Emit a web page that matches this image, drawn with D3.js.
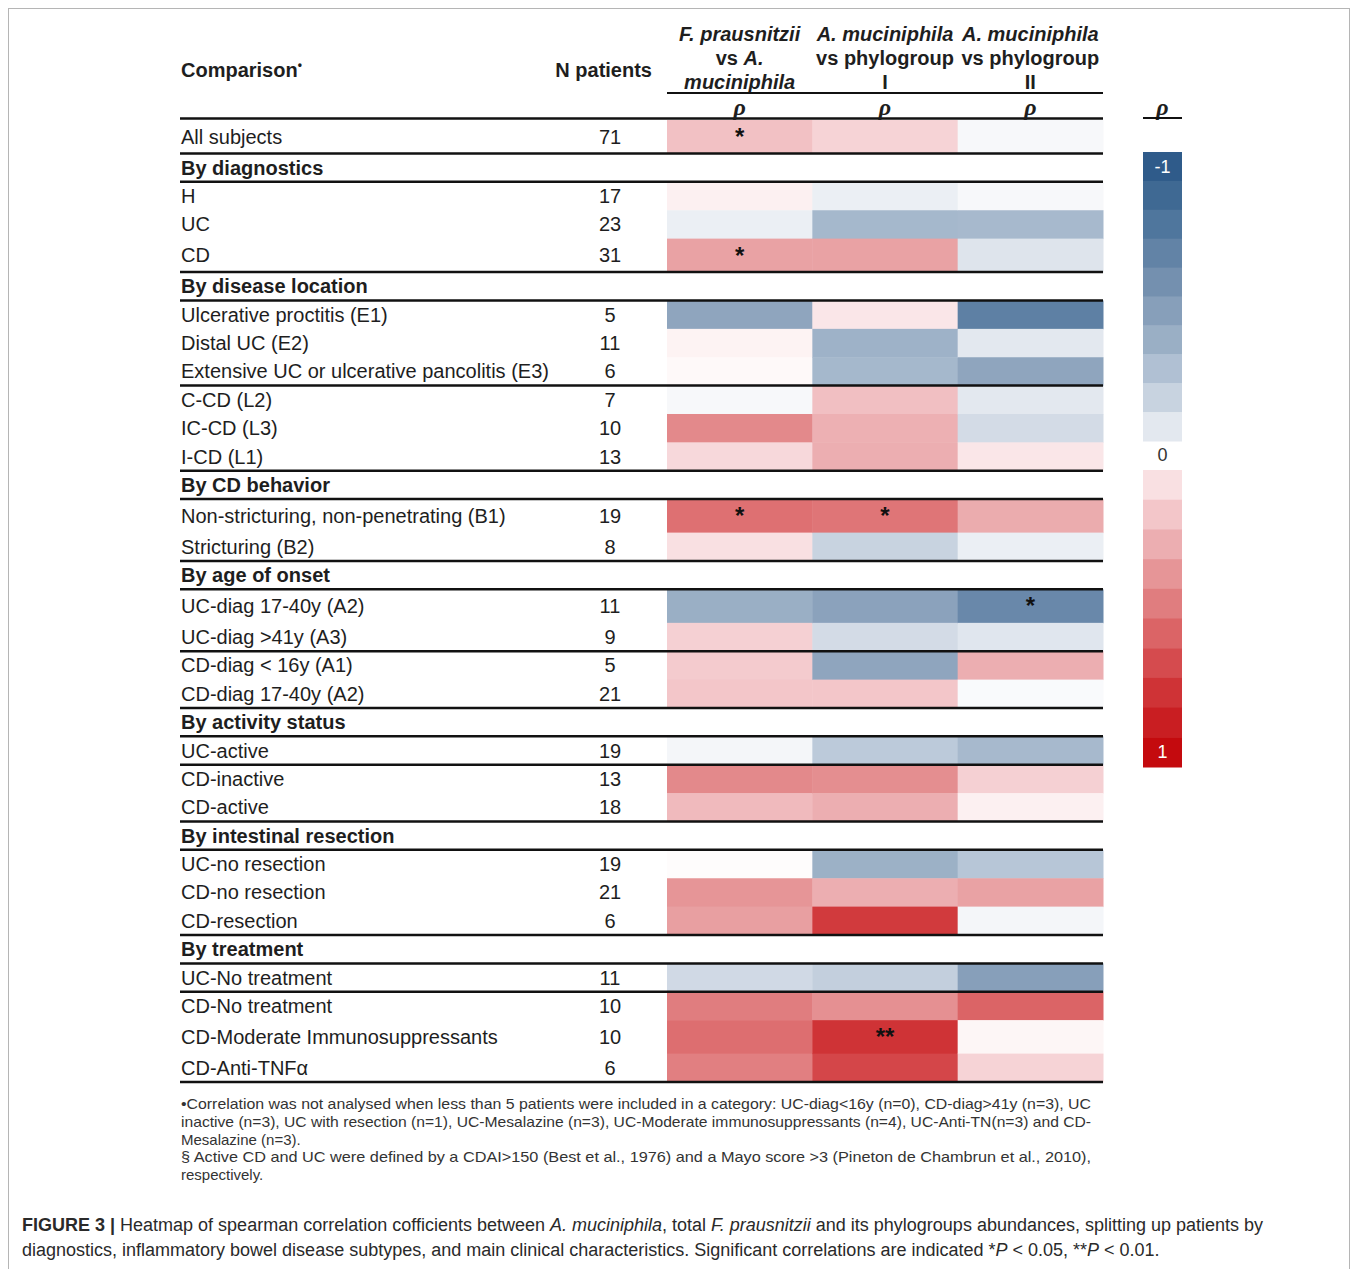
<!DOCTYPE html>
<html>
<head>
<meta charset="utf-8">
<script src="https://cdn.jsdelivr.net/npm/d3@7"></script>
<style>
    body { margin: 0; background: #fff; }
    svg text { font-family: 'Liberation Sans', Arial, sans-serif; fill: #1e1e1e; }
</style>
</head>
<body>
<svg id="chart" width="1358" height="1269"></svg>
<script>
// rows of the table, group headers have no N
const rowLabels = [
    'All subjects', 'By diagnostics', 'H', 'UC', 'CD',
    'By disease location', 'Ulcerative proctitis (E1)', 'Distal UC (E2)', 'Extensive UC or ulcerative pancolitis (E3)',
    'C-CD (L2)', 'IC-CD (L3)', 'I-CD (L1)',
    'By CD behavior', 'Non-stricturing, non-penetrating (B1)', 'Stricturing (B2)',
    'By age of onset', 'UC-diag 17-40y (A2)', 'UC-diag >41y (A3)', 'CD-diag < 16y (A1)', 'CD-diag 17-40y (A2)',
    'By activity status', 'UC-active', 'CD-inactive', 'CD-active',
    'By intestinal resection', 'UC-no resection', 'CD-no resection', 'CD-resection',
    'By treatment', 'UC-No treatment', 'CD-No treatment', 'CD-Moderate Immunosuppressants', 'CD-Anti-TNFα'
];
const nPatients = [71, null, 17, 23, 31, null, 5, 11, 6, 7, 10, 13, null, 19, 8, null, 11, 9, 5, 21,
    null, 19, 13, 18, null, 19, 21, 6, null, 11, 10, 10, 6];

const columns = ['fpAm', 'amI', 'amII'];
const rhoFpAm = [0.22, null, 0.05, -0.07, 0.35, null, -0.46, 0.04, 0.02, -0.03, 0.45, 0.13, null, 0.55, 0.1,
    null, -0.4, 0.16, 0.18, 0.2, null, -0.04, 0.45, 0.25, null, 0.01, 0.4, 0.36, null, -0.17, 0.5, 0.56, 0.49];
const rhoAmI = [0.15, null, -0.07, -0.35, 0.35, null, 0.08, -0.38, -0.35, 0.23, 0.29, 0.3, null, 0.53, -0.2,
    null, -0.48, -0.16, -0.46, 0.2, null, -0.25, 0.43, 0.3, null, -0.39, 0.3, 0.77, null, -0.22, 0.42, 0.8, 0.72];
const rhoAmII = [-0.03, null, -0.03, -0.34, -0.12, null, -0.72, -0.1, -0.46, -0.1, -0.16, 0.08, null, 0.31, -0.07,
    null, -0.66, -0.11, 0.3, -0.02, null, -0.34, 0.16, 0.05, null, -0.27, 0.35, -0.04, null, -0.5, 0.6, 0.03, 0.15];

// significance marks: [row, column, mark]
const signif = [[0, 'fpAm', '*'], [4, 'fpAm', '*'], [13, 'fpAm', '*'], [13, 'amI', '*'], [16, 'amII', '*'], [31, 'amI', '**']];

// rules drawn under these rows
const ruleAfter = [0, 1, 4, 5, 8, 11, 12, 14, 15, 17, 19, 20, 21, 23, 24, 27, 28, 29, 32];

// legend ladder
const legendSteps = [-1, -0.9, -0.8, -0.7, -0.6, -0.5, -0.4, -0.3, -0.2, -0.1, 0.1, 0.2, 0.3, 0.4, 0.5, 0.6, 0.7, 0.8, 0.9, 1];
const legendColors = ['#2f5b8a', '#3f6993', '#4f769d', '#6283a6', '#7490af', '#879fba', '#9aafc5', '#b0c0d3', '#c8d3e0', '#e3e8ef',
    '#f9e0e2', '#f3c6c9', '#ecaeb1', '#e69597', '#e07d7f', '#db6466', '#d54b4e', '#cf3336', '#c91e22', '#c40a0e'];

const svg = d3.select('#chart');

// figure frame
svg.append('rect')
    .attr('x', 8.5).attr('y', 8.5)
    .attr('width', 1341).attr('height', 1275)
    .attr('fill', 'none')
    .attr('stroke', '#b5b5b5');

const color = d3.scaleLinear()
    .domain([...legendSteps.slice(0, 10), 0, ...legendSteps.slice(10)])
    .range([...legendColors.slice(0, 10), '#ffffff', ...legendColors.slice(10)])
    .clamp(true);

const x = d3.scaleBand().domain(columns).range([667, 1103]);

// rows carrying a star are drawn a bit taller, like in the source table
const starRows = new Set(signif.map(d => d[0]));
const rowUnits = rowLabels.map((d, i) => starRows.has(i) ? 1.18 : 1);
const rowCum = Array.from(d3.cumsum([0, ...rowUnits]));
const yu = d3.scaleLinear().domain([0, rowCum[rowCum.length - 1]]).range([120, 1082]);
const rowTop = i => yu(rowCum[i]);
const rowH = i => yu(rowCum[i + 1]) - yu(rowCum[i]);
const rowMid = i => rowTop(i) + rowH(i) / 2;

const values = { fpAm: rhoFpAm, amI: rhoAmI, amII: rhoAmII };
const cells = columns.flatMap(c => values[c].map((v, i) => ({ col: c, row: i, v })))
    .filter(d => d.v !== null);

const table = svg.append('g').attr('class', 'table');

table.selectAll('.cell')
    .data(cells)
    .join('rect')
        .attr('class', 'cell')
        .attr('x', d => x(d.col))
        .attr('y', d => rowTop(d.row))
        .attr('width', x.bandwidth() + 0.5)
        .attr('height', d => rowH(d.row) + 0.5)
        .attr('fill', d => color(d.v));

table.selectAll('.sig')
    .data(signif)
    .join('text')
        .attr('class', 'sig')
        .attr('x', d => x(d[1]) + x.bandwidth() / 2)
        .attr('y', d => rowTop(d[0]) + 25)
        .attr('text-anchor', 'middle')
        .style('font-size', '24px')
        .style('font-weight', 'bold')
        .style('fill', '#111')
        .text(d => d[2]);

// row labels
const labelX = 181, nX = 610;
table.selectAll('.row-label')
    .data(rowLabels)
    .join('text')
        .attr('class', 'row-label')
        .attr('x', labelX)
        .attr('y', (d, i) => rowMid(i))
        .attr('dy', '0.35em')
        .style('font-size', '20px')
        .style('font-weight', (d, i) => nPatients[i] === null ? 'bold' : 'normal')
        .text(d => d);

table.selectAll('.n-label')
    .data(nPatients.map((n, i) => ({ n, i })).filter(d => d.n !== null))
    .join('text')
        .attr('class', 'n-label')
        .attr('x', nX)
        .attr('y', d => rowMid(d.i))
        .attr('dy', '0.35em')
        .attr('text-anchor', 'middle')
        .style('font-size', '20px')
        .text(d => d.n);

// horizontal rules
table.selectAll('.rule')
    .data([-1, ...ruleAfter])
    .join('line')
        .attr('class', 'rule')
        .attr('x1', 180).attr('x2', 1103)
        .attr('y1', d => d < 0 ? rowTop(0) - 1.5 : rowTop(d + 1))
        .attr('y2', d => d < 0 ? rowTop(0) - 1.5 : rowTop(d + 1))
        .attr('stroke', '#111')
        .attr('stroke-width', 2.5);

// header
const head = svg.append('g').attr('class', 'header')
    .style('font-size', '20px').style('font-weight', 'bold');

head.append('text').attr('x', labelX).attr('y', 77).text('Comparison')
    .append('tspan').attr('dy', -8).style('font-size', '12px').text('•');
head.append('text').attr('x', 652).attr('y', 77).attr('text-anchor', 'end').text('N patients');

const colHeads = {
    fpAm: [[['F. prausnitzii', true]], [['vs ', false], ['A.', true]], [['muciniphila', true]]],
    amI: [[['A. muciniphila', true]], [['vs phylogroup', false]], [['I', false]]],
    amII: [[['A. muciniphila', true]], [['vs phylogroup', false]], [['II', false]]]
};
columns.forEach(c => {
    colHeads[c].forEach((parts, li) => {
        const t = head.append('text')
            .attr('x', x(c) + x.bandwidth() / 2)
            .attr('y', 41 + li * 24)
            .attr('text-anchor', 'middle');
        parts.forEach(p => t.append('tspan').style('font-style', p[1] ? 'italic' : 'normal').text(p[0]));
    });
    head.append('text')
        .attr('x', x(c) + x.bandwidth() / 2)
        .attr('y', 115)
        .attr('text-anchor', 'middle')
        .style('font-family', "'Liberation Serif', 'Times New Roman', serif")
        .style('font-style', 'italic')
        .style('font-size', '24px')
        .text('ρ');
});
head.append('line')
    .attr('x1', 667).attr('x2', 1103)
    .attr('y1', 93).attr('y2', 93)
    .attr('stroke', '#111').attr('stroke-width', 2);

// legend
const legend = svg.append('g').attr('class', 'legend');
const ly = d3.scaleBand().domain(legendSteps.slice(0, 10)).range([152, 441]);
const lyRed = d3.scaleBand().domain(legendSteps.slice(10)).range([470, 767]);
const lx = 1143, lw = 39;

legend.append('text')
    .attr('x', lx + lw / 2).attr('y', 115)
    .attr('text-anchor', 'middle')
    .style('font-family', "'Liberation Serif', 'Times New Roman', serif")
    .style('font-size', '24px').style('font-style', 'italic').style('font-weight', 'bold')
    .text('ρ');
legend.append('line')
    .attr('x1', lx).attr('x2', lx + lw)
    .attr('y1', 118).attr('y2', 118)
    .attr('stroke', '#111').attr('stroke-width', 2);

legend.selectAll('.swatch')
    .data(legendSteps)
    .join('rect')
        .attr('class', 'swatch')
        .attr('x', lx)
        .attr('y', d => d < 0 ? ly(d) : lyRed(d))
        .attr('width', lw)
        .attr('height', d => (d < 0 ? ly.bandwidth() : lyRed.bandwidth()) + 0.5)
        .attr('fill', d => color(d));

legend.append('text')
    .attr('x', lx + lw / 2).attr('y', ly(-1) + ly.bandwidth() / 2).attr('dy', '0.35em')
    .attr('text-anchor', 'middle').style('font-size', '18px').style('fill', '#fff')
    .text('-1');
legend.append('text')
    .attr('x', lx + lw / 2).attr('y', 455).attr('dy', '0.35em')
    .attr('text-anchor', 'middle').style('font-size', '18px').style('fill', '#333')
    .text('0');
legend.append('text')
    .attr('x', lx + lw / 2).attr('y', lyRed(1) + lyRed.bandwidth() / 2).attr('dy', '0.35em')
    .attr('text-anchor', 'middle').style('font-size', '18px').style('fill', '#fff')
    .text('1');

// footnotes
const notes = [
    ['•Correlation was not analysed when less than 5 patients were included in a category: UC-diag<16y (n=0), CD-diag>41y (n=3), UC', true],
    ['inactive (n=3), UC with resection (n=1), UC-Mesalazine (n=3), UC-Moderate immunosuppressants (n=4), UC-Anti-TN(n=3) and CD-', true],
    ['Mesalazine (n=3).', false],
    ['§ Active CD and UC were defined by a CDAI>150 (Best et al., 1976) and a Mayo score >3 (Pineton de Chambrun et al., 2010),', true],
    ['respectively.', false]
];
svg.append('g').attr('class', 'notes')
    .selectAll('text')
    .data(notes)
    .join('text')
        .attr('x', 181)
        .attr('y', (d, i) => 1109 + i * 17.8)
        .style('font-size', '15px')
        .style('fill', '#333')
        .attr('textLength', d => d[1] ? 910 : null)
        .attr('lengthAdjust', 'spacingAndGlyphs')
        .text(d => d[0]);

// caption
const caption = [
    [['FIGURE 3 | ', 'b'], ['Heatmap of spearman correlation cofficients between ', ''], ['A. muciniphila', 'i'],
        [', total ', ''], ['F. prausnitzii', 'i'], [' and its phylogroups abundances, splitting up patients by', '']],
    [['diagnostics, inflammatory bowel disease subtypes, and main clinical characteristics. Significant correlations are indicated *', ''],
        ['P', 'i'], [' < 0.05, **', ''], ['P', 'i'], [' < 0.01.', '']]
];
caption.forEach((line, i) => {
    const t = svg.append('text')
        .attr('x', 22).attr('y', 1231 + i * 25)
        .style('font-size', '18px').style('fill', '#2a2a2a');
    line.forEach(p => t.append('tspan')
        .style('font-weight', p[1] === 'b' ? 'bold' : 'normal')
        .style('font-style', p[1] === 'i' ? 'italic' : 'normal')
        .text(p[0]));
});
</script>
</body>
</html>
